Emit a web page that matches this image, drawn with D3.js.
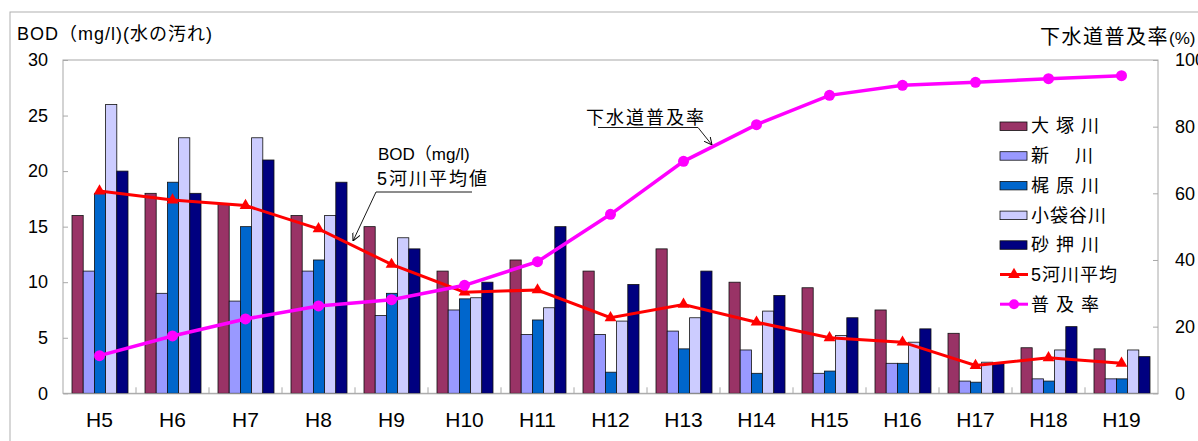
<!DOCTYPE html>
<html>
<head>
<meta charset="utf-8">
<script src="https://cdn.jsdelivr.net/npm/d3@7"></script>
<style>
body{margin:0;background:#fff;}
text{font-family:"Liberation Sans","Noto Sans CJK JP",sans-serif;fill:#000;}
</style>
</head>
<body>
<script>
// 年度
const years=["H5","H6","H7","H8","H9","H10","H11","H12","H13","H14","H15","H16","H17","H18","H19"]
// BOD (mg/l) 各河川
const otsuka=[16,18,17,16,15,11,12,11,13,10,9.5,7.5,5.4,4.1,4]
const shin=[11,9,8.3,11,7,7.5,5.3,5.3,5.6,3.9,1.8,2.7,1.1,1.3,1.3]
const kajiwara=[18,19,15,12,9,8.5,6.6,1.9,4,1.8,2,2.7,1,1.1,1.3]
const kobukuro=[26,23,23,16,14,8.6,7.7,6.5,6.8,7.4,5.2,4.6,2.8,3.9,3.9]
const sunaoshi=[20,18,21,19,13,10,15,9.8,11,8.8,6.8,5.8,2.7,6,3.3]
// 5河川平均
const avg5=[18.2,17.4,16.9,14.8,11.6,9.1,9.3,6.8,8.0,6.4,5.0,4.6,2.5,3.2,2.7]
// 下水道普及率 (%)
const fukyu=[11.3,17.2,22.3,26.2,28.1,32.4,39.5,53.7,69.6,80.6,89.4,92.4,93.3,94.4,95.3]
const riverNames=["大 塚 川","新　 川","梶 原 川","小袋谷川","砂 押 川"]
const riverColors=["#993366","#9999ff","#0066cc","#ccccff","#000080"]
const bodTicks=[0,5,10,15,20,25,30]
const pctTicks=[0,20,40,60,80,100]

const w=1198,h=441;
const pL=63,pR=1158,pT=60,pB=393.3;
const svg=d3.select("body")
.append("svg")
.attr("width",w)
.attr("height",h)

svg.append("rect")
.attr("x",10).attr("y",12)
.attr("width",w).attr("height",h)
.attr("fill","#fff").attr("stroke","#b0b0b0")

const x0=d3.scaleBand().domain(years).range([pL,pR])
const x1=d3.scaleBand().domain(d3.range(5)).range([9,65])
const y=d3.scaleLinear().domain([0,30]).range([pB,pT])
const y2=d3.scaleLinear().domain([0,100]).range([pB,pT])

// plot frame
svg.append("rect")
.attr("x",pL).attr("y",pT)
.attr("width",pR-pL).attr("height",pB-pT)
.attr("fill","none").attr("stroke","#a8a8a8")

const series=[otsuka,shin,kajiwara,kobukuro,sunaoshi]
const grp=svg.selectAll("g.year")
.data(years)
.join("g")
.attr("class","year")
.attr("transform",d=>`translate(${x0(d)},0)`)
grp.selectAll("rect")
.data((d,i)=>series.map((s,k)=>({k:k,v:s[i]})))
.join("rect")
.attr("x",d=>x1(d.k))
.attr("width",x1.bandwidth())
.attr("y",d=>y(d.v))
.attr("height",d=>pB-y(d.v))
.attr("fill",d=>riverColors[d.k])
.attr("stroke","#111")
.attr("stroke-width",0.8)

// axes
const axL=svg.append("g")
.attr("transform",`translate(${pL},0)`)
.call(d3.axisLeft(y).tickValues(bodTicks).tickSize(-5).tickPadding(15))
axL.select(".domain").remove()
axL.selectAll("line").attr("stroke","#a8a8a8")
axL.selectAll("text").style("font-size","18px")

const axR=svg.append("g")
.attr("transform",`translate(${pR},0)`)
.call(d3.axisRight(y2).tickValues(pctTicks).tickSize(-5).tickPadding(17))
axR.select(".domain").remove()
axR.selectAll("line").attr("stroke","#a8a8a8")
axR.selectAll("text").style("font-size","18px")

const axB=svg.append("g")
.attr("transform",`translate(0,${pB})`)
.call(d3.axisBottom(x0).tickSize(0).tickPadding(19))
axB.select(".domain").attr("stroke","#a8a8a8")
axB.selectAll("text").style("font-size","21px")
// category separators
svg.selectAll("line.sep")
.data(years.slice(1))
.join("line")
.attr("class","sep")
.attr("x1",d=>x0(d)).attr("x2",d=>x0(d))
.attr("y1",pB).attr("y2",pB-6)
.attr("stroke","#a8a8a8")

// lines
const cx=d=>x0(d)+x0.bandwidth()/2
const avgLine=d3.line().x((d,i)=>cx(years[i])).y(d=>y(d))
svg.append("path")
.attr("d",avgLine(avg5))
.attr("fill","none").attr("stroke","#ff0000").attr("stroke-width",3)
const tri=d3.symbol().type(d3.symbolTriangle).size(60)
svg.selectAll("path.tri")
.data(avg5)
.join("path")
.attr("class","tri")
.attr("d",tri)
.attr("transform",(d,i)=>`translate(${cx(years[i])},${y(d)})`)
.attr("fill","#ff0000")

const fLine=d3.line().x((d,i)=>cx(years[i])).y(d=>y2(d))
svg.append("path")
.attr("d",fLine(fukyu))
.attr("fill","none").attr("stroke","#ff00ff").attr("stroke-width",3.5)
svg.selectAll("circle.dot")
.data(fukyu)
.join("circle")
.attr("class","dot")
.attr("cx",(d,i)=>cx(years[i]))
.attr("cy",d=>y2(d))
.attr("r",5.5)
.attr("fill","#ff00ff")

// axis titles
svg.append("text")
.attr("x",17).attr("y",40)
.style("font-size","18px")
.style("letter-spacing","1px")
.text("BOD（mg/l)(水の汚れ)")
const rt=svg.append("text")
.attr("x",1040).attr("y",44)
.style("font-size","20px")
.style("letter-spacing","1.5px")
rt.append("tspan").text("下水道普及率")
rt.append("tspan").style("font-size","17px").style("letter-spacing","0px").text("(%)")

// annotations
svg.append("text").attr("x",378).attr("y",160).style("font-size","17px").text("BOD（mg/l)")
svg.append("text").attr("x",377).attr("y",185).style("font-size","18px").style("letter-spacing","2px").text("5河川平均値")
svg.append("text").attr("x",586).attr("y",124).style("font-size","18px").style("letter-spacing","2px").text("下水道普及率")
svg.append("defs").append("marker")
.attr("id","arr")
.attr("viewBox","0 0 10 10")
.attr("refX",10).attr("refY",5)
.attr("markerWidth",9).attr("markerHeight",9)
.attr("orient","auto")
.append("path")
.attr("d","M0,0L10,5L0,10")
.attr("fill","none").attr("stroke","#000").attr("stroke-width",1.2)
svg.append("path")
.attr("d","M472,192L376,192L353,241")
.attr("fill","none").attr("stroke","#000").attr("stroke-width",0.9)
.attr("marker-end","url(#arr)")
svg.append("path")
.attr("d","M598,127.5L698,127.5L712,145")
.attr("fill","none").attr("stroke","#000").attr("stroke-width",0.9)
.attr("marker-end","url(#arr)")

// legend
const lg=svg.append("g").attr("transform","translate(1000,126)")
const items=riverNames.map((n,i)=>({name:n,type:"bar",color:riverColors[i]}))
.concat([{name:"5河川平均",type:"tri",color:"#ff0000"},{name:"普 及 率",type:"dot",color:"#ff00ff"}])
const li=lg.selectAll("g")
.data(items)
.join("g")
.attr("transform",(d,i)=>`translate(0,${i*29.7})`)
li.filter(d=>d.type=="bar").append("rect")
.attr("x",0).attr("y",-4).attr("width",27).attr("height",8.5)
.attr("fill",d=>d.color).attr("stroke","#111").attr("stroke-width",0.8)
li.filter(d=>d.type!="bar").append("line")
.attr("x1",0).attr("x2",28).attr("y1",0).attr("y2",0)
.attr("stroke",d=>d.color).attr("stroke-width",3)
li.filter(d=>d.type=="tri").append("path")
.attr("d",tri).attr("transform","translate(14,0)").attr("fill","#ff0000")
li.filter(d=>d.type=="dot").append("circle")
.attr("cx",14).attr("r",5).attr("fill","#ff00ff")
li.append("text")
.attr("x",31).attr("y",0).attr("dy","0.36em")
.style("font-size","18px")
.style("letter-spacing","1px")
.text(d=>d.name)
</script>
</body>
</html>
